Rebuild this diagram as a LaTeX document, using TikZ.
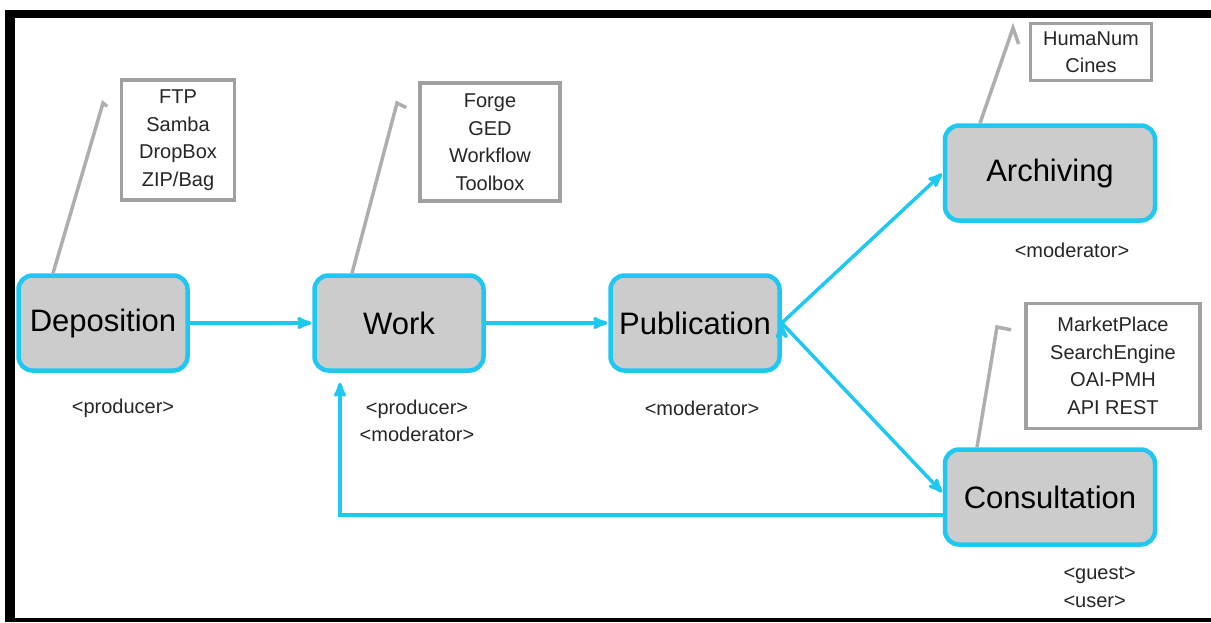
\documentclass[tikz,border=0pt]{standalone}
\usepackage{fontspec}
\setmainfont{Liberation Sans}
\usepackage{tikz}
\usetikzlibrary{arrows,positioning}
\definecolor{flowcyan}{RGB}{30,200,240}
\definecolor{stagegray}{RGB}{204,204,204}
\definecolor{toolgray}{RGB}{160,160,160}

\begin{document}
\begin{tikzpicture}[-,>=stealth',shorten >=1pt,auto,node distance=296pt,
x=1pt,y=-1pt,
stage node/.style={rectangle,rounded corners=14pt,draw=flowcyan,line width=4.5pt,fill=stagegray,minimum width=169pt,minimum height=95pt,font=\fontsize{31}{36}\selectfont},
wide node/.style={stage node,minimum width=210pt},
tool node/.style={rectangle,draw=toolgray,line width=3.5pt,fill=white,align=center,inner sep=4pt,font=\fontsize{20}{27.5}\selectfont,text=black!85},
role node/.style={align=center,font=\fontsize{20}{27.5}\selectfont,text=black!85},
flow/.style={->,draw=flowcyan,line width=3.5pt},
leader/.style={draw=toolgray!85,line width=3.5pt}]
\useasboundingbox (0,0) rectangle (1211,622);
\fill[black] (5,10) rectangle (1211,18);
\fill[black] (5,10) rectangle (15,622);
\fill[black] (5,618) rectangle (1211,622);

\node[stage node] (dep) at (103,323) {Deposition};
\node[stage node] (work) [right of=dep] {Work};
\node[stage node] (pub) [right of=work] {Publication};
\node[wide node] (arch) at (1050,173) {Archiving};
\node[wide node] (cons) at (1050,497) {Consultation};

\node[tool node,minimum width=113pt,minimum height=120pt] (depTools) at (178,140) {FTP\\Samba\\DropBox\\ZIP/Bag};
\node[tool node,minimum width=140pt,minimum height=118pt] (workTools) at (490,142) {Forge\\GED\\Workflow\\Toolbox};
\node[tool node,minimum width=121pt,minimum height=57pt] (archTools) at (1091,52) {HumaNum\\Cines};
\node[tool node,minimum width=174pt,minimum height=125pt] (consTools) at (1113,366) {MarketPlace\\SearchEngine\\OAI-PMH\\API REST};

\node[role node] (depRole) at (123,408) {<producer>};
\node[role node] (workRole) at (417,421) {<producer>\\<moderator>};
\node[role node] (pubRole) at (702,408) {<moderator>};
\node[role node] (archRole) at (1072,250) {<moderator>};
\node[role node,align=left,anchor=west] (consRole) at (1060,587) {<guest>\\<user>};

\coordinate (depTip) at (103,103);
\coordinate (workTip) at (397,103);
\coordinate (archTip) at (1013,28);
\coordinate (consTip) at (997,327);
\draw[leader] ([xshift=-50pt]dep.north) -- (depTip) -- ++(5,4);
\draw[leader] ([xshift=-47pt]work.north) -- (workTip) -- ++(10,5);
\draw[leader] ([xshift=-70pt]arch.north) -- (archTip) -- ++(6,17);
\draw[leader] ([xshift=-73pt]cons.north) -- (consTip) -- ++(15,3);

\path[flow]
(dep) edge (work)
(work) edge (pub)
(pub.east) edge (arch.west)
(pub.east) edge ([yshift=4pt]cons.west);
\draw[flow,shorten >=10pt] ([yshift=-18pt]cons.west) -| ([xshift=-59pt]work.south);
\end{tikzpicture}
\end{document}
